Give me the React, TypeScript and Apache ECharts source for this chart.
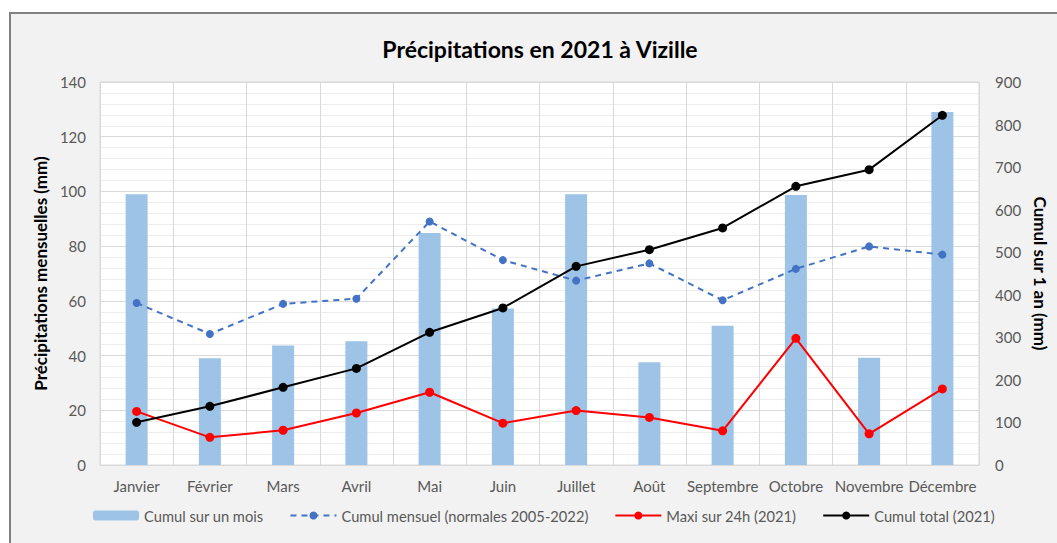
import React, { useEffect, useRef } from "react";
import * as echarts from "echarts";

const months = ["Janvier", "Février", "Mars", "Avril", "Mai", "Juin", "Juillet", "Août", "Septembre", "Octobre", "Novembre", "Décembre"];
const cumulMois = [99.0, 39.0, 43.7, 45.2, 84.8, 57.2, 99.0, 37.6, 50.9, 98.7, 39.2, 129.0];
const normales = [59.2, 47.9, 58.9, 60.8, 89.0, 74.9, 67.4, 73.7, 60.2, 71.7, 79.9, 76.9];
const maxi24h = [19.6, 10.1, 12.7, 19.0, 26.6, 15.3, 19.9, 17.4, 12.5, 46.3, 11.4, 27.8];
const cumulTotal = [100.3, 137.9, 182.5, 227.0, 311.8, 369.0, 466.8, 506.0, 557.0, 654.8, 694.0, 821.7];

const FONT = "Lato, 'Liberation Sans', sans-serif";

export default function App() {
  const ref = useRef<HTMLDivElement>(null);
  useEffect(() => {
    if (!ref.current) return;
    const chart = echarts.init(ref.current, undefined, { renderer: "svg" });
    chart.setOption({
      animation: false,
      backgroundColor: "#ffffff",
      textStyle: { fontFamily: FONT },
      graphic: [
        {
          type: "rect",
          z: -10,
          shape: { x: 10, y: 13, width: 1060, height: 545 },
          style: { fill: "#f2f2f2", stroke: "#808080", lineWidth: 2 },
        },
      ],
      title: {
        text: "Précipitations en 2021 à Vizille",
        left: 535,
        top: 32,
        textAlign: "center",
        textStyle: { fontFamily: FONT, fontSize: 23, fontWeight: "bold", color: "#000" },
      },
      grid: {
        left: 100,
        right: 78,
        top: 82,
        bottom: 78,
        show: true,
        backgroundColor: "#ffffff",
        borderColor: "#d9d9d9",
        borderWidth: 1,
      },
      legend: {
        bottom: 15,
        left: 88,
        itemWidth: 46,
        itemHeight: 10,
        itemGap: 26,
        textStyle: { fontFamily: FONT, fontSize: 14.7, color: "#595959" },
        data: ["Cumul sur un mois", "Cumul mensuel (normales 2005-2022)", "Maxi sur 24h (2021)", "Cumul total (2021)"],
      },
      xAxis: {
        type: "category",
        data: months,
        boundaryGap: true,
        axisLine: { lineStyle: { color: "#d9d9d9" } },
        axisTick: { show: false },
        axisLabel: { color: "#595959", fontSize: 15, margin: 13, fontFamily: FONT, interval: 0 },
        splitLine: { show: true, interval: 0, lineStyle: { color: "#d9d9d9" } },
      },
      yAxis: [
        {
          type: "value",
          min: 0,
          max: 140,
          interval: 20,
          name: "Précipitations mensuelles (mm)",
          nameLocation: "middle",
          nameRotate: 90,
          nameGap: 50,
          nameTextStyle: { fontFamily: FONT, fontSize: 17, fontWeight: "bold", color: "#000" },
          axisLine: { show: false },
          axisTick: { show: false },
          axisLabel: { color: "#595959", fontSize: 15, margin: 14, fontFamily: FONT },
          splitLine: { show: true, lineStyle: { color: "#d9d9d9" } },
          minorTick: { show: false, splitNumber: 5 },
          minorSplitLine: { show: true, lineStyle: { color: "#ededed" } },
        },
        {
          type: "value",
          min: 0,
          max: 900,
          interval: 100,
          name: "Cumul sur 1 an (mm)",
          nameLocation: "middle",
          nameRotate: -90,
          nameGap: 48,
          nameTextStyle: { fontFamily: FONT, fontSize: 17, fontWeight: "bold", color: "#000" },
          axisLine: { show: false },
          axisTick: { show: false },
          axisLabel: { color: "#595959", fontSize: 15, margin: 16, fontFamily: FONT },
          splitLine: { show: false },
        },
      ],
      series: [
        {
          name: "Cumul sur un mois",
          type: "bar",
          data: cumulMois,
          barWidth: 22,
          itemStyle: { color: "#9dc3e6" },
        },
        {
          name: "Cumul mensuel (normales 2005-2022)",
          type: "line",
          data: normales,
          symbol: "circle",
          symbolSize: 8,
          itemStyle: { color: "#4472c4" },
          lineStyle: { color: "#4472c4", width: 2, type: [6, 5] },
        },
        {
          name: "Maxi sur 24h (2021)",
          type: "line",
          data: maxi24h,
          symbol: "circle",
          symbolSize: 9,
          itemStyle: { color: "#ff0000" },
          lineStyle: { color: "#ff0000", width: 2 },
        },
        {
          name: "Cumul total (2021)",
          type: "line",
          yAxisIndex: 1,
          data: cumulTotal,
          symbol: "circle",
          symbolSize: 9,
          itemStyle: { color: "#000000" },
          lineStyle: { color: "#000000", width: 2 },
        },
      ],
    });
    return () => chart.dispose();
  }, []);
  return <div ref={ref} style={{ position: "fixed", left: 0, top: 0, width: 1057, height: 543 }} />;
}
